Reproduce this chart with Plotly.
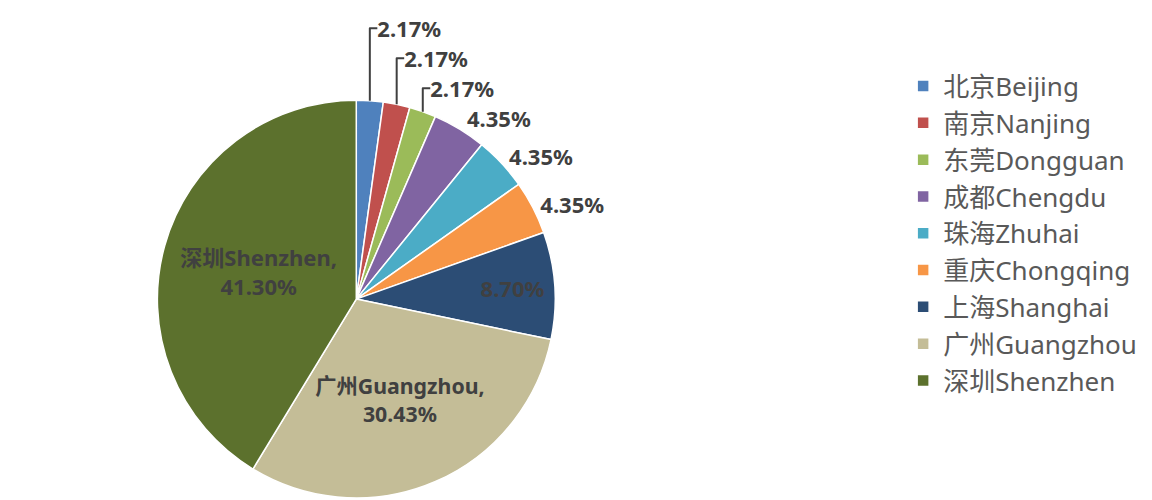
import plotly.graph_objects as go

labels = ["北京Beijing", "南京Nanjing", "东莞Dongguan", "成都Chengdu", "珠海Zhuhai",
          "重庆Chongqing", "上海Shanghai", "广州Guangzhou", "深圳Shenzhen"]
values = [2.17, 2.17, 2.17, 4.35, 4.35, 4.35, 8.70, 30.43, 41.30]
slice_text = ["2.17%", "2.17%", "2.17%", "4.35%", "4.35%", "4.35%", "8.70%",
              "广州Guangzhou,<br>30.43%", "深圳Shenzhen,<br>41.30%"]
colors = ["#4F81BD", "#C0504D", "#9BBB59", "#8064A2", "#4BACC6",
          "#F79646", "#2C4D75", "#C4BD97", "#5C712D"]
positions = ["outside"] * 6 + ["inside"] * 3

FONT = "Noto Sans, Noto Sans CJK SC"

fig = go.Figure(go.Pie(
    labels=labels,
    values=values,
    text=slice_text,
    texttemplate="<b>%{text}</b>",
    textinfo="text",
    textposition=positions,
    insidetextorientation="horizontal",
    sort=False,
    direction="clockwise",
    rotation=0,
    marker=dict(colors=colors, line=dict(color="white", width=1.5)),
    textfont=dict(family=FONT, size=22, color="#404040"),
    insidetextfont=dict(family=FONT, size=22, color="#404040"),
    outsidetextfont=dict(family=FONT, size=22, color="#404040"),
    domain=dict(x=[0.038, 0.528], y=[0.0, 0.9]),
    hoverinfo="label+percent",
))

fig.update_layout(
    width=1152, height=500,
    margin=dict(l=10, r=10, t=30, b=10),
    paper_bgcolor="white",
    showlegend=True,
    legend=dict(
        x=0.777, y=0.985, xanchor="left", yanchor="top",
        font=dict(family=FONT, size=26, color="#595959"),
        itemwidth=30,
        traceorder="normal",
    ),
)

fig.write_html("out.html")
